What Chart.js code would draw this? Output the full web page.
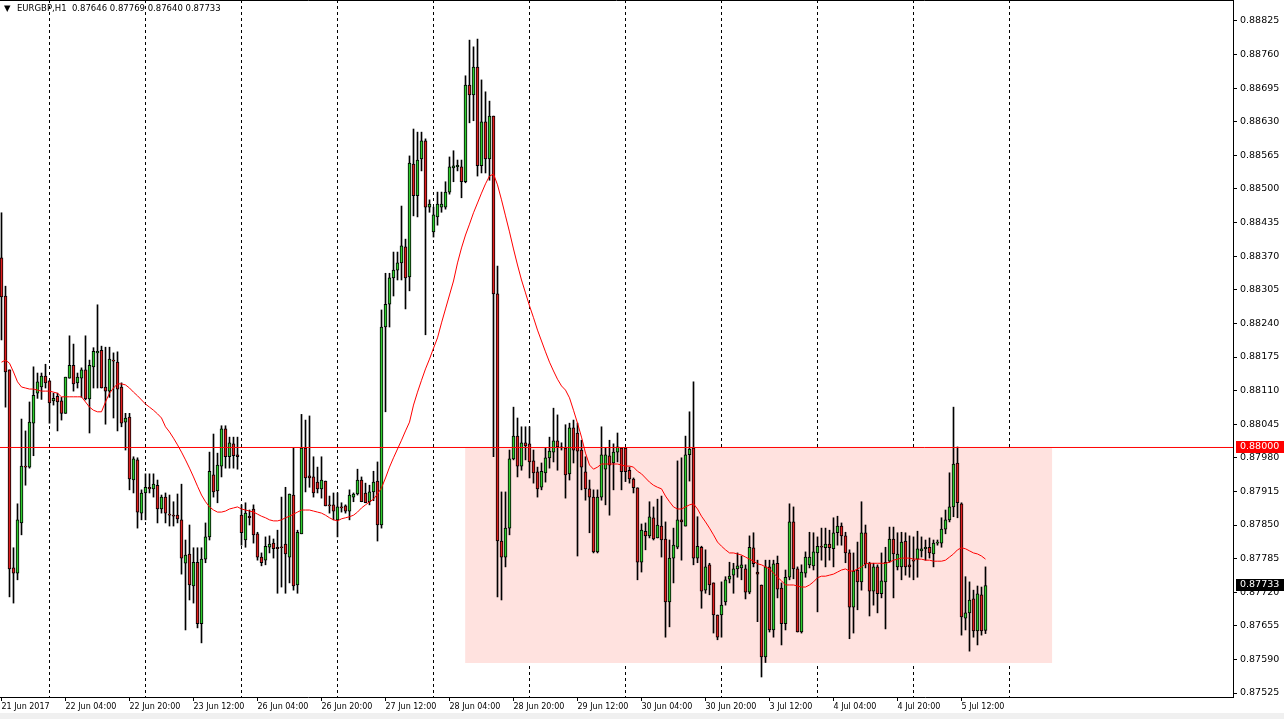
<!DOCTYPE html>
<html>
<head>
<meta charset="utf-8">
<script src="https://cdn.jsdelivr.net/npm/chart.js@4.4.1/dist/chart.umd.min.js"></script>
<style>
  html, body { margin: 0; padding: 0; background: #fff; }
</style>
</head>
<body>
<canvas id="chart" width="1284" height="719"></canvas>
<script>
const symbol = 'EURGBP,H1';

// hourly bars, bar 0 = 21 Jun 2017 12:00
const timeLabels = ['21 Jun 2017', '22 Jun 04:00', '22 Jun 20:00', '23 Jun 12:00', '26 Jun 04:00', '26 Jun 20:00',
  '27 Jun 12:00', '28 Jun 04:00', '28 Jun 20:00', '29 Jun 12:00', '30 Jun 04:00', '30 Jun 20:00',
  '3 Jul 12:00', '4 Jul 04:00', '4 Jul 20:00', '5 Jul 12:00'];
const labelBars = [0, 16, 32, 48, 64, 80, 96, 112, 128, 144, 160, 176, 192, 208, 224, 240];
const dayStarts = [12, 36, 60, 84, 108, 132, 156, 180, 204, 228, 252];
const priceTicks = [0.87525, 0.87590, 0.87655, 0.87720, 0.87785, 0.87850, 0.87915, 0.87980, 0.88045, 0.88110,
  0.88175, 0.88240, 0.88305, 0.88370, 0.88435, 0.88500, 0.88565, 0.88630, 0.88695, 0.88760, 0.88825];

const open = [
  0.88367, 0.88293, 0.88150, 0.87767, 0.87757, 0.87854, 0.87964, 0.87962, 0.88047, 0.88105,
  0.88117, 0.88138, 0.88129, 0.88090, 0.88099, 0.88090, 0.88066, 0.88134, 0.88159, 0.88125,
  0.88134, 0.88150, 0.88094, 0.88156, 0.88183, 0.88188, 0.88117, 0.88109, 0.88169, 0.88165,
  0.88117, 0.88049, 0.88059, 0.87937, 0.87976, 0.87873, 0.87912, 0.87923, 0.87920, 0.87927,
  0.87881, 0.87904, 0.87871, 0.87869, 0.87869, 0.87860, 0.87776, 0.87794, 0.87732, 0.87778,
  0.87659, 0.87784, 0.87827, 0.87947, 0.87916, 0.87964, 0.88036, 0.87982, 0.88007, 0.87986,
  0.87869, 0.87821, 0.87867, 0.87881, 0.87833, 0.87788, 0.87782, 0.87807, 0.87815, 0.87807,
  0.87807, 0.87813, 0.87788, 0.87908, 0.87734, 0.87833, 0.87999, 0.87945, 0.87943, 0.87933,
  0.87920, 0.87935, 0.87889, 0.87889, 0.87860, 0.87885, 0.87887, 0.87877, 0.87904, 0.87910,
  0.87937, 0.87912, 0.87895, 0.87914, 0.87935, 0.87850, 0.88233, 0.88277, 0.88328, 0.88343,
  0.88357, 0.88388, 0.88330, 0.88548, 0.88487, 0.88558, 0.88593, 0.88465, 0.88417, 0.88446,
  0.88465, 0.88465, 0.88494, 0.88541, 0.88543, 0.88543, 0.88514, 0.88701, 0.88682, 0.88736,
  0.88545, 0.88630, 0.88558, 0.88641, 0.88297, 0.87819, 0.87788, 0.87844, 0.87978, 0.88022,
  0.87964, 0.88009, 0.88007, 0.87974, 0.87953, 0.87923, 0.87951, 0.87980, 0.87991, 0.88013,
  0.88001, 0.87999, 0.87949, 0.88038, 0.88028, 0.87995, 0.87953, 0.87920, 0.87904, 0.87798,
  0.87904, 0.87958, 0.87984, 0.87970, 0.87991, 0.87999, 0.87999, 0.87956, 0.87939, 0.87922,
  0.87778, 0.87838, 0.87829, 0.87864, 0.87825, 0.87848, 0.87823, 0.87701, 0.87786, 0.87807,
  0.87860, 0.87848, 0.87986, 0.87999, 0.87786, 0.87807, 0.87724, 0.87773, 0.87738, 0.87676,
  0.87676, 0.87701, 0.87745, 0.87753, 0.87765, 0.87767, 0.87765, 0.87720, 0.87806, 0.87759,
  0.87734, 0.87595, 0.87769, 0.87647, 0.87776, 0.87728, 0.87659, 0.87749, 0.87856, 0.87765,
  0.87643, 0.87757, 0.87773, 0.87771, 0.87796, 0.87809, 0.87806, 0.87813, 0.87804, 0.87835,
  0.87848, 0.87829, 0.87796, 0.87691, 0.87763, 0.87740, 0.87835, 0.87776, 0.87722, 0.87769,
  0.87717, 0.87740, 0.87780, 0.87823, 0.87769, 0.87769, 0.87819, 0.87773, 0.87782, 0.87784,
  0.87800, 0.87804, 0.87807, 0.87794, 0.87815, 0.87815, 0.87842, 0.87860, 0.87885, 0.87970,
  0.87891, 0.87670, 0.87680, 0.87707, 0.87645, 0.87715, 0.87646
];
const high = [
  0.88454, 0.88312, 0.88150, 0.87806, 0.87891, 0.88055, 0.88032, 0.88088, 0.88156, 0.88144,
  0.88144, 0.88161, 0.88129, 0.88105, 0.88105, 0.88097, 0.88136, 0.88216, 0.88200, 0.88144,
  0.88154, 0.88216, 0.88169, 0.88193, 0.88276, 0.88196, 0.88194, 0.88194, 0.88183, 0.88185,
  0.88125, 0.88066, 0.88066, 0.87982, 0.87980, 0.87918, 0.87949, 0.87949, 0.87949, 0.87937,
  0.87908, 0.87912, 0.87908, 0.87895, 0.87910, 0.87929, 0.87821, 0.87850, 0.87806, 0.87806,
  0.87806, 0.87854, 0.87991, 0.88026, 0.87989, 0.88042, 0.88042, 0.88020, 0.88020, 0.88020,
  0.87889, 0.87893, 0.87879, 0.87889, 0.87836, 0.87796, 0.87827, 0.87829, 0.87823, 0.87840,
  0.87904, 0.87923, 0.87910, 0.87999, 0.87840, 0.88064, 0.88053, 0.88061, 0.87982, 0.87962,
  0.87982, 0.87935, 0.87906, 0.87912, 0.87912, 0.87893, 0.87889, 0.87918, 0.87912, 0.87958,
  0.87943, 0.87931, 0.87927, 0.87954, 0.87972, 0.88266, 0.88337, 0.88337, 0.88378, 0.88378,
  0.88467, 0.88403, 0.88564, 0.88616, 0.88610, 0.88610, 0.88597, 0.88479, 0.88465, 0.88494,
  0.88494, 0.88514, 0.88562, 0.88574, 0.88556, 0.88556, 0.88719, 0.88788, 0.88775, 0.88790,
  0.88711, 0.88688, 0.88670, 0.88641, 0.88351, 0.87914, 0.87914, 0.87995, 0.88078, 0.88057,
  0.88040, 0.88040, 0.88040, 0.87995, 0.87962, 0.87970, 0.87999, 0.88020, 0.88076, 0.88063,
  0.88009, 0.88044, 0.88047, 0.88053, 0.88047, 0.88014, 0.87982, 0.87937, 0.87918, 0.87918,
  0.88040, 0.87999, 0.88014, 0.88007, 0.88028, 0.87999, 0.87999, 0.87962, 0.87941, 0.87922,
  0.87852, 0.87854, 0.87895, 0.87885, 0.87900, 0.87906, 0.87856, 0.87821, 0.87844, 0.87974,
  0.87980, 0.88022, 0.88069, 0.88127, 0.87866, 0.87809, 0.87802, 0.87776, 0.87738, 0.87676,
  0.87740, 0.87750, 0.87778, 0.87776, 0.87796, 0.87790, 0.87773, 0.87829, 0.87835, 0.87782,
  0.87734, 0.87782, 0.87782, 0.87782, 0.87790, 0.87738, 0.87763, 0.87891, 0.87885, 0.87769,
  0.87773, 0.87798, 0.87836, 0.87835, 0.87827, 0.87844, 0.87844, 0.87840, 0.87864, 0.87867,
  0.87854, 0.87836, 0.87802, 0.87796, 0.87817, 0.87895, 0.87850, 0.87778, 0.87776, 0.87773,
  0.87796, 0.87807, 0.87846, 0.87846, 0.87835, 0.87836, 0.87835, 0.87829, 0.87827, 0.87838,
  0.87827, 0.87821, 0.87825, 0.87821, 0.87821, 0.87864, 0.87879, 0.87951, 0.88078, 0.88001,
  0.87893, 0.87750, 0.87740, 0.87724, 0.87732, 0.87730, 0.87769
];
const low = [
  0.88208, 0.88078, 0.87711, 0.87699, 0.87744, 0.87831, 0.87927, 0.87960, 0.87984, 0.88095,
  0.88093, 0.88115, 0.88047, 0.88082, 0.88032, 0.88053, 0.88066, 0.88134, 0.88109, 0.88115,
  0.88097, 0.88092, 0.88028, 0.88115, 0.88115, 0.88115, 0.88045, 0.88097, 0.88057, 0.88032,
  0.88040, 0.87995, 0.87918, 0.87912, 0.87844, 0.87860, 0.87860, 0.87912, 0.87904, 0.87854,
  0.87873, 0.87854, 0.87848, 0.87848, 0.87854, 0.87755, 0.87647, 0.87705, 0.87699, 0.87651,
  0.87622, 0.87777, 0.87821, 0.87904, 0.87893, 0.87943, 0.87960, 0.87960, 0.87960, 0.87958,
  0.87811, 0.87807, 0.87850, 0.87815, 0.87782, 0.87771, 0.87773, 0.87796, 0.87786, 0.87718,
  0.87730, 0.87718, 0.87738, 0.87724, 0.87718, 0.87833, 0.87914, 0.87923, 0.87904, 0.87912,
  0.87902, 0.87887, 0.87873, 0.87860, 0.87827, 0.87875, 0.87873, 0.87860, 0.87895, 0.87908,
  0.87895, 0.87893, 0.87889, 0.87897, 0.87819, 0.87844, 0.88069, 0.88233, 0.88293, 0.88324,
  0.88324, 0.88268, 0.88303, 0.88448, 0.88446, 0.88535, 0.88218, 0.88455, 0.88407, 0.88430,
  0.88455, 0.88461, 0.88490, 0.88514, 0.88535, 0.88483, 0.88512, 0.88628, 0.88632, 0.88525,
  0.88531, 0.88531, 0.88517, 0.87982, 0.87711, 0.87705, 0.87769, 0.87831, 0.87976, 0.87943,
  0.87956, 0.87976, 0.87941, 0.87931, 0.87904, 0.87918, 0.87933, 0.87960, 0.87972, 0.87956,
  0.87995, 0.87902, 0.87937, 0.87970, 0.87790, 0.87918, 0.87898, 0.87835, 0.87796, 0.87796,
  0.87898, 0.87889, 0.87869, 0.87918, 0.87972, 0.87918, 0.87934, 0.87931, 0.87912, 0.87744,
  0.87759, 0.87802, 0.87825, 0.87821, 0.87825, 0.87788, 0.87633, 0.87653, 0.87738, 0.87804,
  0.87782, 0.87848, 0.87935, 0.87773, 0.87777, 0.87689, 0.87718, 0.87715, 0.87641, 0.87628,
  0.87633, 0.87695, 0.87738, 0.87718, 0.87749, 0.87744, 0.87707, 0.87717, 0.87769, 0.87663,
  0.87556, 0.87584, 0.87643, 0.87633, 0.87709, 0.87618, 0.87647, 0.87744, 0.87746, 0.87643,
  0.87641, 0.87749, 0.87767, 0.87763, 0.87682, 0.87782, 0.87769, 0.87782, 0.87769, 0.87811,
  0.87811, 0.87777, 0.87630, 0.87641, 0.87686, 0.87724, 0.87767, 0.87674, 0.87695, 0.87680,
  0.87709, 0.87649, 0.87778, 0.87709, 0.87763, 0.87744, 0.87753, 0.87749, 0.87744, 0.87749,
  0.87788, 0.87782, 0.87786, 0.87769, 0.87811, 0.87807, 0.87833, 0.87856, 0.87866, 0.87864,
  0.87637, 0.87647, 0.87606, 0.87633, 0.87618, 0.87637, 0.87640
];
const close = [
  0.88291, 0.88146, 0.87765, 0.87757, 0.87860, 0.87964, 0.87962, 0.88049, 0.88101, 0.88127,
  0.88138, 0.88125, 0.88086, 0.88095, 0.88088, 0.88066, 0.88136, 0.88159, 0.88123, 0.88136,
  0.88150, 0.88094, 0.88159, 0.88186, 0.88186, 0.88115, 0.88109, 0.88171, 0.88167, 0.88113,
  0.88047, 0.88057, 0.87939, 0.87978, 0.87875, 0.87912, 0.87923, 0.87920, 0.87929, 0.87881,
  0.87904, 0.87873, 0.87869, 0.87867, 0.87862, 0.87786, 0.87792, 0.87734, 0.87778, 0.87659,
  0.87784, 0.87827, 0.87954, 0.87914, 0.87966, 0.88036, 0.87982, 0.88009, 0.87984, 0.87982,
  0.87835, 0.87873, 0.87864, 0.87831, 0.87788, 0.87777, 0.87809, 0.87813, 0.87804, 0.87804,
  0.87806, 0.87794, 0.87910, 0.87732, 0.87836, 0.87999, 0.87941, 0.87941, 0.87912, 0.87920,
  0.87937, 0.87887, 0.87887, 0.87877, 0.87885, 0.87883, 0.87877, 0.87908, 0.87910, 0.87937,
  0.87895, 0.87893, 0.87914, 0.87933, 0.87850, 0.88233, 0.88277, 0.88328, 0.88343, 0.88357,
  0.88390, 0.88328, 0.88550, 0.88487, 0.88556, 0.88593, 0.88465, 0.88471, 0.88450, 0.88471,
  0.88471, 0.88494, 0.88543, 0.88545, 0.88546, 0.88514, 0.88701, 0.88682, 0.88736, 0.88545,
  0.88630, 0.88558, 0.88641, 0.88297, 0.87819, 0.87788, 0.87844, 0.87978, 0.88022, 0.87964,
  0.88009, 0.88003, 0.87972, 0.87951, 0.87920, 0.87954, 0.87980, 0.87993, 0.88013, 0.88001,
  0.87999, 0.87947, 0.88038, 0.87995, 0.87993, 0.87962, 0.87920, 0.87904, 0.87798, 0.87904,
  0.87986, 0.87986, 0.87966, 0.87991, 0.88001, 0.87953, 0.87953, 0.87939, 0.87922, 0.87778,
  0.87840, 0.87829, 0.87866, 0.87823, 0.87850, 0.87821, 0.87701, 0.87786, 0.87811, 0.87860,
  0.87856, 0.87986, 0.87997, 0.87786, 0.87809, 0.87722, 0.87769, 0.87734, 0.87676, 0.87633,
  0.87695, 0.87744, 0.87751, 0.87765, 0.87771, 0.87773, 0.87720, 0.87807, 0.87775, 0.87755,
  0.87595, 0.87769, 0.87647, 0.87775, 0.87726, 0.87659, 0.87749, 0.87856, 0.87765, 0.87643,
  0.87759, 0.87788, 0.87788, 0.87798, 0.87809, 0.87807, 0.87813, 0.87806, 0.87835, 0.87848,
  0.87829, 0.87796, 0.87691, 0.87761, 0.87740, 0.87835, 0.87775, 0.87722, 0.87769, 0.87717,
  0.87742, 0.87778, 0.87823, 0.87794, 0.87794, 0.87817, 0.87769, 0.87769, 0.87780, 0.87804,
  0.87804, 0.87807, 0.87796, 0.87815, 0.87817, 0.87842, 0.87860, 0.87885, 0.87968, 0.87893,
  0.87672, 0.87680, 0.87705, 0.87645, 0.87717, 0.87645, 0.87733
];
// moving average (red line) as drawn on the chart
const ma = [
  0.88165, 0.88169, 0.88163, 0.88146, 0.88127, 0.88117, 0.88115, 0.88113, 0.88113, 0.88111,
  0.88109, 0.88109, 0.88109, 0.88107, 0.88105, 0.88098, 0.88098, 0.88098, 0.88098, 0.88098,
  0.88098, 0.88088, 0.88078, 0.88072, 0.88069, 0.88069, 0.88088, 0.88105, 0.88115, 0.88123,
  0.88123, 0.88121, 0.88115, 0.88107, 0.88100, 0.88092, 0.88084, 0.88078, 0.88072, 0.88065,
  0.88057, 0.88040, 0.88030, 0.88018, 0.88005, 0.87991, 0.87976, 0.87960, 0.87943, 0.87925,
  0.87908, 0.87895, 0.87885, 0.87879, 0.87875, 0.87875, 0.87877, 0.87881, 0.87883, 0.87885,
  0.87881, 0.87879, 0.87877, 0.87875, 0.87871, 0.87867, 0.87864, 0.87860, 0.87858, 0.87858,
  0.87860, 0.87864, 0.87867, 0.87871, 0.87875, 0.87879, 0.87879, 0.87879, 0.87877, 0.87875,
  0.87873, 0.87869, 0.87864, 0.87860, 0.87858, 0.87862, 0.87864, 0.87866, 0.87869, 0.87875,
  0.87883, 0.87889, 0.87895, 0.87900, 0.87910, 0.87922, 0.87941, 0.87962, 0.87980, 0.87997,
  0.88014, 0.88032, 0.88049, 0.88082, 0.88107, 0.88130, 0.88152, 0.88171, 0.88192, 0.88212,
  0.88241, 0.88268, 0.88295, 0.88322, 0.88357, 0.88386, 0.88411, 0.88432, 0.88454, 0.88473,
  0.88492, 0.88510, 0.88525, 0.88529, 0.88508, 0.88479, 0.88448, 0.88417, 0.88384, 0.88353,
  0.88324, 0.88299, 0.88274, 0.88251, 0.88227, 0.88206, 0.88185, 0.88165, 0.88148, 0.88132,
  0.88119, 0.88111, 0.88096, 0.88072, 0.88047, 0.88020, 0.87989, 0.87966, 0.87958, 0.87962,
  0.87968, 0.87968, 0.87968, 0.87968, 0.87968, 0.87966, 0.87964, 0.87964, 0.87962, 0.87954,
  0.87949, 0.87941, 0.87933, 0.87927, 0.87923, 0.87920, 0.87906, 0.87895, 0.87885, 0.87881,
  0.87881, 0.87885, 0.87889, 0.87891, 0.87881, 0.87867, 0.87856, 0.87844, 0.87831, 0.87817,
  0.87809, 0.87802, 0.87796, 0.87796, 0.87794, 0.87792, 0.87788, 0.87784, 0.87780, 0.87775,
  0.87773, 0.87769, 0.87765, 0.87757, 0.87749, 0.87742, 0.87734, 0.87734, 0.87734, 0.87732,
  0.87730, 0.87730, 0.87734, 0.87740, 0.87748, 0.87751, 0.87751, 0.87753, 0.87755, 0.87759,
  0.87763, 0.87765, 0.87761, 0.87761, 0.87765, 0.87769, 0.87775, 0.87776, 0.87776, 0.87776,
  0.87776, 0.87776, 0.87778, 0.87782, 0.87784, 0.87786, 0.87786, 0.87786, 0.87784, 0.87784,
  0.87784, 0.87782, 0.87782, 0.87780, 0.87780, 0.87780, 0.87782, 0.87788, 0.87794, 0.87802,
  0.87806, 0.87804, 0.87800, 0.87796, 0.87794, 0.87790, 0.87784
];

const levelPrice = 0.88000;
const zoneBars = [115.9, 262.7];
const zonePrices = [0.88000, 0.87583];

// visible window (bar index / price)
const xMin = -0.375, xMax = 307.875;
const yMin = 0.875173, yMax = 0.888656;

const GREEN = '#2ecc2e';
const RED = '#e01e1e';

const idx = close.map((c, i) => i);
const last = close.length - 1;

function tag(chart, price, bg) {
    const c = chart.ctx;
    const a = chart.chartArea;
    const py = Math.round(chart.scales.y.getPixelForValue(price));
    c.fillStyle = bg;
    c.fillRect(a.right + 3, py - 6, 48, 12);
    c.fillStyle = '#fff';
    c.font = '9.5px "DejaVu Sans"';
    c.textBaseline = 'middle';
    c.textAlign = 'left';
    c.fillText(price.toFixed(5), a.right + 7, py);
}

const overlay = {
    id: 'overlay',
    beforeDraw(chart) {
        const c = chart.ctx;
        c.save();
        c.fillStyle = '#fff';
        c.fillRect(0, 0, chart.width, chart.height);
        c.fillStyle = '#f0f0f0';
        c.fillRect(0, 713, chart.width, 6);
        c.restore();
    },
    afterDraw(chart) {
        const c = chart.ctx;
        const a = chart.chartArea;
        c.save();
        c.strokeStyle = '#000';
        c.lineWidth = 1;
        c.beginPath();
        c.moveTo(a.left, a.top + 0.5);
        c.lineTo(a.right, a.top + 0.5);
        c.stroke();

        c.fillStyle = '#000';
        c.textBaseline = 'middle';
        c.font = '8.5px "DejaVu Sans"';
        c.fillText('\u25BC', 4, 9);
        const ohlc = [open[last], high[last], low[last], close[last]].map(v => v.toFixed(5)).join(' ');
        c.fillText(symbol + '  ' + ohlc, 17, 9);

        tag(chart, levelPrice, '#ff0000');
        tag(chart, close[last], '#000');
        c.restore();
    }
};

new Chart(document.getElementById('chart'), {
    type: 'bar',
    data: {
        datasets: [
            {
                type: 'line', label: 'zone',
                data: [{x: zoneBars[0], y: zonePrices[0]}, {x: zoneBars[1], y: zonePrices[0]}],
                fill: {value: zonePrices[1]},
                backgroundColor: '#ffe2df', borderWidth: 0, pointRadius: 0, order: 10
            },
            {
                type: 'line', label: 'level',
                data: [{x: xMin, y: levelPrice}, {x: xMax, y: levelPrice}],
                borderColor: '#ff0000', borderWidth: 1, pointRadius: 0, order: 0
            },
            {
                type: 'line', label: 'ma',
                data: ma.map((v, i) => ({x: i, y: v})),
                borderColor: '#ff0000', borderWidth: 1, pointRadius: 0, tension: 0, order: 1
            },
            {
                label: 'wick',
                data: idx.map(i => ({x: i, y: [low[i], high[i]]})),
                backgroundColor: '#000', barThickness: 1, grouped: false, order: 3
            },
            {
                label: 'body',
                data: idx.map(i => ({x: i, y: [open[i], close[i]]})),
                backgroundColor: idx.map(i => close[i] >= open[i] ? GREEN : RED),
                borderColor: '#000', borderWidth: 1, borderSkipped: false,
                barThickness: 3, minBarLength: 1, grouped: false, order: 2
            }
        ]
    },
    options: {
        responsive: false,
        animation: false,
        layout: {padding: 0},
        plugins: {legend: {display: false}, tooltip: {enabled: false}},
        scales: {
            x: {
                type: 'linear', position: 'bottom', min: xMin, max: xMax, offset: false,
                afterBuildTicks: s => { s.ticks = labelBars.map(v => ({value: v})); },
                afterFit: s => { s.height = 22; s.paddingLeft = 0; s.paddingRight = 0; },
                grid: {drawOnChartArea: false, tickLength: 4, color: '#000', offset: false},
                border: {display: true, color: '#000', width: 1},
                ticks: {
                    autoSkip: false, maxRotation: 0, minRotation: 0, align: 'start', padding: 1,
                    color: '#000', font: {family: 'DejaVu Sans', size: 8},
                    callback: (v, i) => timeLabels[i]
                }
            },
            days: {
                type: 'linear', position: 'bottom', min: xMin, max: xMax, offset: false,
                afterBuildTicks: s => { s.ticks = dayStarts.map(v => ({value: v})); },
                afterFit: s => { s.height = 0; s.paddingLeft = 0; s.paddingRight = 0; },
                grid: {drawOnChartArea: true, drawTicks: false, color: '#000', lineWidth: 1, offset: false},
                border: {display: false, dash: [3, 3]},
                ticks: {display: false}
            },
            y: {
                type: 'linear', position: 'right', min: yMin, max: yMax,
                afterBuildTicks: s => { s.ticks = priceTicks.map(v => ({value: v})); },
                afterFit: s => { s.width = 51; s.paddingTop = 0; s.paddingBottom = 0; },
                grid: {drawOnChartArea: false, tickLength: 4, color: '#000'},
                border: {display: true, color: '#000', width: 1},
                ticks: {
                    padding: 3, color: '#000', font: {family: 'DejaVu Sans', size: 9.5},
                    callback: v => v.toFixed(5)
                }
            }
        }
    },
    plugins: [overlay]
});
</script>
</body>
</html>
